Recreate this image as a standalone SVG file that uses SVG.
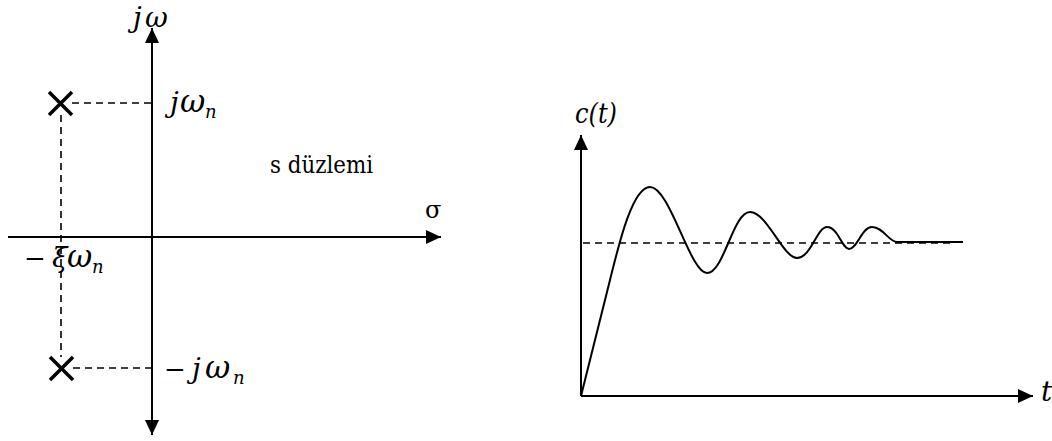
<svg xmlns="http://www.w3.org/2000/svg" width="1052" height="441" viewBox="0 0 1052 441">
<style>
.ax{stroke:#000;stroke-width:2;fill:none}
.dash{stroke:#000;stroke-width:1.6;stroke-dasharray:7 5;fill:none}
.pole{stroke:#000;stroke-width:3.5;fill:none}
.curve{stroke:#000;stroke-width:2;fill:none}
text{font-family:"DejaVu Serif",serif;fill:#000}
.m{font-style:italic;font-size:28px}
.w{font-size:31px}
.sub{font-size:18px}
.mn{font-style:normal;font-size:26px}
.up{font-style:normal}
</style>
<defs>
<marker id="ah" markerUnits="userSpaceOnUse" markerWidth="16" markerHeight="15" refX="15" refY="7" orient="auto-start-reverse" viewBox="0 0 16 15">
<path d="M0,0 L15,7 L0,14 z" fill="#000"/>
</marker>
</defs>
<g id="connectors">
<line class="ax" x1="152" y1="435" x2="152" y2="28" marker-start="url(#ah)" marker-end="url(#ah)"/>
<line class="ax" x1="8" y1="237" x2="441" y2="237" marker-end="url(#ah)"/>
<line class="dash" x1="72" y1="103" x2="151" y2="103"/>
<line class="dash" x1="61" y1="115" x2="61" y2="357"/>
<line class="dash" x1="73" y1="368" x2="151" y2="368"/>
<line class="ax" x1="581" y1="396" x2="581" y2="135" marker-end="url(#ah)"/>
<line class="ax" x1="581" y1="396" x2="1033" y2="396" marker-end="url(#ah)"/>
<line class="dash" x1="583" y1="243" x2="955" y2="243"/>
</g>
<g id="pole-upper">
<path class="pole" d="M49,92 L72,115 M72,92 L49,115"/>
</g>
<g id="pole-lower">
<path class="pole" d="M50,357 L73,380 M73,357 L50,380"/>
</g>
<g id="labels-splane">
<text class="m" y="27" font-size="27"><tspan x="133">j</tspan><tspan x="145">ω</tspan></text>
<text class="m" y="112"><tspan x="170">j</tspan><tspan class="w" x="180">ω</tspan><tspan class="sub" x="205" y="118">n</tspan></text>
<text class="m" y="378"><tspan class="mn" x="164">−</tspan><tspan x="192">j</tspan><tspan class="w" x="205">ω</tspan><tspan class="sub" x="233" y="384">n</tspan></text>
<text class="m" y="267"><tspan class="mn" x="24">−</tspan><tspan x="52">ξ</tspan><tspan class="w" x="67">ω</tspan><tspan class="sub" x="92" y="273">n</tspan></text>
<text class="up" x="425" y="218" font-size="24">σ</text>
<text class="up" x="270" y="173" font-size="24" textLength="103" lengthAdjust="spacingAndGlyphs">s düzlemi</text>
</g>
<g id="response">
<path class="curve" d="M581,396 L610,280 C618,248 632,187 650,187 C670,187 690,273 707,273 C724,273 733,212 750,212 C767,212 783,258 797,258 C811,258 817,227 827,227 C838,227 842,249 849,249 C857,249 862,227 872,227 C883,227 889,242 897,242 L963,242"/>
<text class="m" x="575" y="123" font-size="27" textLength="42" lengthAdjust="spacingAndGlyphs">c(t)</text>
<text class="m" x="1041" y="401">t</text>
</g>
</svg>
